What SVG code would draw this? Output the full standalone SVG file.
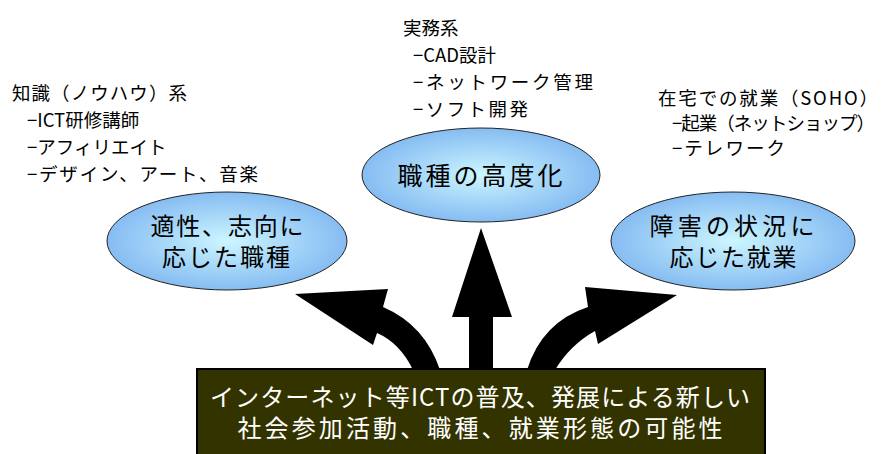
<svg xmlns="http://www.w3.org/2000/svg" width="881" height="454" viewBox="0 0 881 454">
<defs>
<radialGradient id="eg" cx="50%" cy="50%" r="50%">
<stop offset="0" stop-color="#ccf6ff"/>
<stop offset="1" stop-color="#86bcf2"/>
</radialGradient>
<style>
.t{font-family:"Noto Sans CJK JP","Noto Sans CJK SC",sans-serif;fill:#000}
.l{font-size:18.5px}
.e{font-size:24px;text-anchor:middle}
.ec{font-size:25px;text-anchor:middle}
.b{font-size:24px;text-anchor:middle;fill:#fff}
.ell{fill:url(#eg);stroke:#222;stroke-width:1}
.arr{fill:#000}
</style>
</defs>
<rect width="881" height="454" fill="#fff"/>

<g id="text-left" class="t l">
<text x="12" y="100" textLength="175" lengthAdjust="spacing">知識（ノウハウ）系</text>
<text x="27" y="127">−ICT研修講師</text>
<text x="27" y="154">−アフィリエイト</text>
<text x="27" y="181" textLength="231" lengthAdjust="spacing">−デザイン、アート、音楽</text>
</g>
<g id="text-top" class="t l">
<text x="403" y="35">実務系</text>
<text x="413" y="62">−CAD設計</text>
<text x="413" y="89" textLength="180" lengthAdjust="spacing">−ネットワーク管理</text>
<text x="413" y="116" textLength="115" lengthAdjust="spacing">−ソフト開発</text>
</g>
<g id="text-right" class="t l">
<text x="658" y="105" textLength="220" lengthAdjust="spacing">在宅での就業（SOHO）</text>
<text x="672" y="130" textLength="203" lengthAdjust="spacing">−起業（ネットショップ）</text>
<text x="672" y="155" textLength="113" lengthAdjust="spacing">−テレワーク</text>
</g>

<g id="connectors">
<path class="arr" d="M469,370 L469,317 L452,317 L481,228 L512,317 L493,317 L493,370 Z"/>
<path class="arr" d="M413,370 Q400,343 377,333 L373,345 L295,294 L388,289 L383,307 Q425,325 440,370 Z"/>
<path class="arr" d="M527,370 Q542,322 588,307 L585,287 L677,295 L598,344 L595,331 Q570,345 555,370 Z"/>
</g>

<g id="node-left">
<ellipse class="ell" cx="227" cy="241" rx="120" ry="49"/>
<text class="t e" x="227" y="235" textLength="153" lengthAdjust="spacing">適性、志向に</text>
<text class="t e" x="226" y="266" textLength="128" lengthAdjust="spacing">応じた職種</text>
</g>
<g id="node-center">
<ellipse class="ell" cx="481" cy="175" rx="119" ry="47"/>
<text class="t ec" x="480" y="185" textLength="165" lengthAdjust="spacing">職種の高度化</text>
</g>
<g id="node-right">
<ellipse class="ell" cx="733" cy="241" rx="122" ry="49"/>
<text class="t e" x="732" y="235" textLength="165" lengthAdjust="spacing">障害の状況に</text>
<text class="t e" x="733" y="266" textLength="127" lengthAdjust="spacing">応じた就業</text>
</g>
<g id="node-bottom">
<rect x="197" y="369" width="568" height="90" fill="#333300" stroke="#000" stroke-width="2"/>
<text class="t b" x="480" y="406" textLength="540" lengthAdjust="spacing">インターネット等ICTの普及、発展による新しい</text>
<text class="t b" x="480" y="437" textLength="485" lengthAdjust="spacing">社会参加活動、職種、就業形態の可能性</text>
</g>
</svg>
